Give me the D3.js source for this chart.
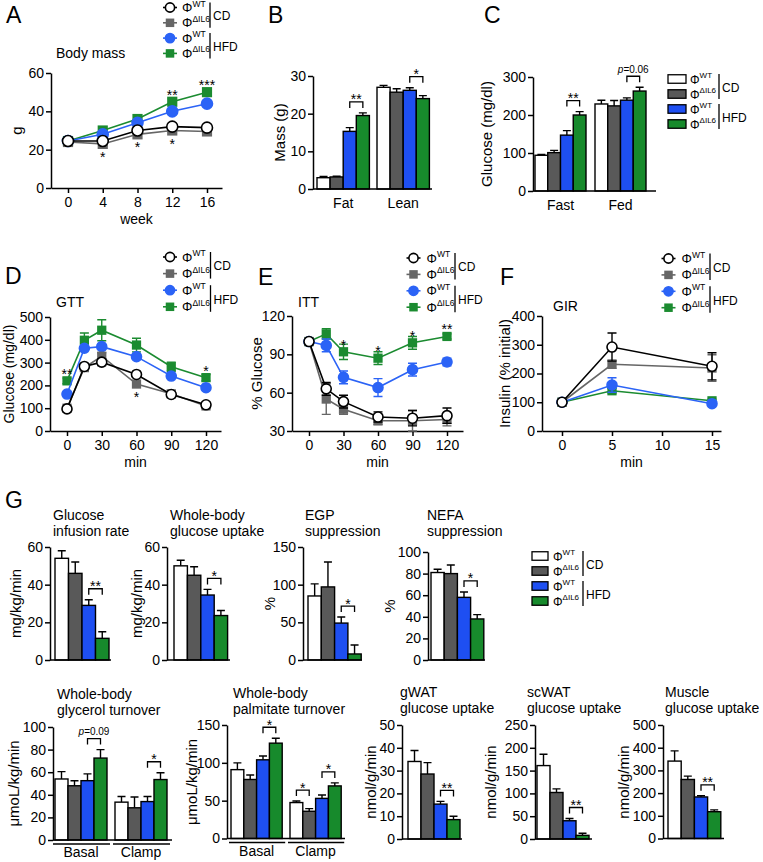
<!DOCTYPE html>
<html><head><meta charset="utf-8">
<script src="https://cdn.jsdelivr.net/npm/d3@7"></script>
<style>
body{margin:0;background:#fff;}
svg text{font-family:"Liberation Sans",Arial,Helvetica,sans-serif;}
</style></head><body>
<svg id="fig" width="763" height="862"></svg>
<script>
// ================= DATA =================
const groupSup = ["WT","ΔIL6","WT","ΔIL6"];
const dietGroups = ["CD","HFD"];

// A: body mass (rows: ΦWT CD, ΦΔIL6 CD, ΦWT HFD, ΦΔIL6 HFD)
const weeks = [0,4,8,12,16];
const weekTicks = [0,4,8,12,16];
const massTicks = [0,20,40,60];
const bodyMass = [[24.5,24.5,30,32,31.5],[24,23,28,30,29.5],[24.5,28,34,40,44],[24.5,30,36,45,50]];
const bodyMassErr = [[1,1,1,1,1],[1,1,1,1,1],[1,1,1,1,1.5],[1,1,1,1.5,1.5]];
const bodyMassStars = [{x:4,t:"*",pos:"below"},{x:8,t:"*",pos:"below"},{x:12,t:"*",pos:"below"},{x:12,t:"**",pos:"above"},{x:16,t:"***",pos:"above"}];

// B: body composition
const compCats = ["Fat","Lean"];
const compTicks = [0,10,20,30];
const compMass = [[3,3.2,15.3,19.5],[27,25.7,26.2,24]];
const compErr = [[0.3,0.2,1,0.7],[0.5,0.9,0.7,0.8]];
const compSig = [["Fat",2,3,"**"],["Lean",2,3,"*"]];

// C: glucose
const glucCats = ["Fast","Fed"];
const glucTicks = [0,100,200,300];
const glucVals = [[94,101,147,200],[229,224,239,263]];
const glucErr = [[2,6,12,9],[10,14,6,10]];
const glucSig = [["Fast",2,3,"**"],["Fed",2,3,"p=0.06"]];

// D: GTT
const gttTime = [0,15,30,60,90,120];
const minTicks = [0,30,60,90,120];
const gttTicks = [0,100,200,300,400,500];
const gtt = [[97,283,302,248,160,115],[100,278,328,206,163,110],[162,363,370,326,241,190],[220,398,442,377,282,234]];
const gttErr = [[8,12,15,12,8,10],[6,12,15,10,8,8],[8,10,10,12,10,8],[12,32,46,30,20,14]];
const gttStars = [{x:0,t:"**",pos:"above"},{x:60,t:"*",pos:"below"},{x:120,t:"*",pos:"above"}];

// E: ITT
const ittTime = [0,15,30,60,90,120];
const ittTicks = [30,60,90,120];
const itt = [[100,63,53,41,40,42],[100,55,47,38,38,39],[100,97,72,64,78,84],[100,106,92,87,99,104]];
const ittErr = [[0,5,5,4,6,6],[0,12,4,3,8,5],[0,5,5,7,5,3],[0,4,6,5,5,2]];
const ittStars = [{x:30,t:"*",pos:"above"},{x:60,t:"*",pos:"above"},{x:90,t:"*",pos:"above"},{x:120,t:"**",pos:"above"}];

// F: insulin during GIR
const girTime = [0,5,15];
const girTicks = [0,5,10,15];
const insTicks = [0,100,200,300,400];
const insulin = [[100,292,225],[100,232,219],[100,160,95],[100,140,105]];
const insulinErr = [[0,49,47],[0,14,46],[0,25,5],[0,8,6]];

// G row 1
const girRate = [54,46,29,11.5];      const girRateErr = [4,6,3,3.5];
const wbUptake = [50,45,34.5,23.6];   const wbUptakeErr = [3,4.5,3,2.7];
const egpSupp = [85,97,49,8];         const egpSuppErr = [16,33,8,12];
const nefaSupp = [81,80,58,38];       const nefaSuppErr = [3,8,5,4];
const ticks60 = [0,20,40,60];
const ticks150 = [0,50,100,150];
const ticks100 = [0,20,40,60,80,100];

// G row 2
const phaseCats = ["Basal","Clamp"];
const glycerol = [[54,48,52.5,72.5],[33.5,28.5,34,53.5]];
const glycerolErr = [[6.5,4.5,6,7.5],[5,9.5,4.5,6]];
const palmitate = [[91,78,104,126],[47.5,36,53,69.5]];
const palmitateErr = [[9,6,5,6.5],[2,3.5,4.5,4]];
const gwat = [34,28.5,15.3,8.5];      const gwatErr = [4.8,5,1.2,1.5];
const scwat = [161,102,40,8];         const scwatErr = [25,8,5,4.5];
const muscle = [341,260,183,118];     const muscleErr = [45,15,5,8];
const ticks50 = [0,10,20,30,40,50];
const ticks250 = [0,50,100,150,200,250];
const ticks500 = [0,100,200,300,400,500];

// ================= STYLE =================
const FONT = '"Liberation Sans", Arial, Helvetica, sans-serif';
const lineCol = ["#000000","#666666","#2b63f6","#1b8b30"];
const barFill = ["#ffffff","#595959","#1e4ff2","#178a2c"];
const svg = d3.select("#fig");
svg.append("rect").attr("width",763).attr("height",862).attr("fill","#fff");

function txt(x,y,s,o={}){
  const t = svg.append("text").attr("x",x).attr("y",y).text(s)
    .attr("font-size",o.size||14).attr("fill","#000");
  if(o.anchor) t.attr("text-anchor",o.anchor);
  if(o.italic) t.attr("font-style","italic");
  return t;
}
function ylabel(x,yc,s,size=15){
  svg.append("text").attr("transform",`translate(${x},${yc}) rotate(-90)`)
    .attr("text-anchor","middle").attr("font-size",size).attr("fill","#000").text(s);
}
function styleAxis(g,fs=14){
  g.attr("font-family",FONT);
  g.selectAll("path,line").attr("stroke","#000").attr("stroke-width",1.5);
  g.selectAll("text").attr("font-size",fs).attr("fill","#000");
}
function leftAxis(y,ticks,x,fs=14){
  const g = svg.append("g").attr("transform",`translate(${x},0)`)
    .call(d3.axisLeft(y).tickValues(ticks).tickSize(5).tickSizeOuter(0).tickPadding(2));
  styleAxis(g,fs);
}
function marker(s,cx,cy,r=5){
  if(s===0||s===2){
    svg.append("circle").attr("cx",cx).attr("cy",cy).attr("r",r)
      .attr("fill",s===0?"#fff":lineCol[2]).attr("stroke",s===0?"#000":lineCol[2]).attr("stroke-width",1.6);
  } else {
    const a = r*1.85;
    svg.append("rect").attr("x",cx-a/2).attr("y",cy-a/2).attr("width",a).attr("height",a).attr("fill",lineCol[s]);
  }
}
function phiText(x,y,sup,fs,ss){
  const t = svg.append("text").attr("x",x).attr("y",y).attr("font-size",fs).attr("fill","#000");
  t.append("tspan").text("Φ");
  t.append("tspan").attr("dy",-fs*0.42).attr("font-size",ss).text(sup);
}
function lineLegend(x,y0,dy,tx,bx){
  for(let i=0;i<4;i++){
    const yy=y0+i*dy;
    svg.append("line").attr("x1",x).attr("x2",x+14).attr("y1",yy).attr("y2",yy).attr("stroke",lineCol[i]).attr("stroke-width",1.6);
    marker(i,x+7,yy,4.6);
    phiText(tx,yy+4.5,groupSup[i],13,8.5);
  }
  for(let g=0;g<2;g++){
    const r0=y0+2*g*dy, r1=r0+dy;
    svg.append("line").attr("x1",bx).attr("x2",bx).attr("y1",r0-5).attr("y2",r1+5).attr("stroke","#000").attr("stroke-width",1.3);
    txt(bx+3,(r0+r1)/2+5,dietGroups[g],{size:12});
  }
}
function barLegend(x,y0,dy,w,h,tx,bx){
  for(let i=0;i<4;i++){
    const yy=y0+i*dy;
    svg.append("rect").attr("x",x).attr("y",yy-h/2).attr("width",w).attr("height",h)
      .attr("fill",barFill[i]).attr("stroke","#000").attr("stroke-width",1.3);
    phiText(tx,yy+4.5,groupSup[i],12,8);
  }
  for(let g=0;g<2;g++){
    const r0=y0+2*g*dy, r1=r0+dy;
    svg.append("line").attr("x1",bx).attr("x2",bx).attr("y1",r0-5).attr("y2",r1+5).attr("stroke","#000").attr("stroke-width",1.3);
    txt(bx+3,(r0+r1)/2+5,dietGroups[g],{size:12});
  }
}

function linePanel(o){
  const n=o.xs.length;
  const x=d3.scaleLinear().domain([o.xs[0],o.xs[n-1]]).range(o.xPx);
  const y=d3.scaleLinear().domain(o.yDom).range(o.yPx);
  const xa=d3.scaleLinear().domain([x.invert(o.axisX),x.invert(o.axisEnd)]).range([o.axisX,o.axisEnd]);
  const gx=svg.append("g").attr("transform",`translate(0,${o.yPx[0]})`)
    .call(d3.axisBottom(xa).tickValues(o.xTicks).tickSize(5).tickSizeOuter(0).tickPadding(4));
  styleAxis(gx);
  leftAxis(y,o.yTicks,o.axisX);
  const line=d3.line().x((d,i)=>x(o.xs[i])).y(d=>y(d));
  [3,2,1,0].forEach(s=>{
    const col=lineCol[s];
    o.series[s].forEach((v,i)=>{
      const e=o.errs[s][i]; if(!e) return;
      const cx=x(o.xs[i]);
      svg.append("path").attr("d",`M${cx},${y(v-e)}V${y(v+e)}M${cx-4.5},${y(v+e)}h9M${cx-4.5},${y(v-e)}h9`)
        .attr("stroke",col).attr("stroke-width",1.4).attr("fill","none");
    });
    svg.append("path").attr("d",line(o.series[s])).attr("fill","none").attr("stroke",col).attr("stroke-width",1.6);
    o.series[s].forEach((v,i)=>marker(s,x(o.xs[i]),y(v),o.r||5));
  });
  (o.stars||[]).forEach(a=>{
    const i=o.xs.indexOf(a.x);
    const vals=o.series.map(s=>s[i]);
    const yy=a.pos==="above"?y(d3.max(vals))-2:y(d3.min(vals))+18;
    txt(x(a.x),yy,a.t,{anchor:"middle",size:14});
  });
  return {x:xa,y};
}

function barPanel(o){
  const n=o.cats.length, gw=4*o.bw;
  const x0=d3.scaleBand().domain(o.cats).range([o.start,o.start+(n-1)*o.step+gw])
    .paddingInner(n>1?(o.step-gw)/o.step:0).paddingOuter(0);
  const x1=d3.scaleBand().domain([0,1,2,3]).range([0,x0.bandwidth()]);
  const y=d3.scaleLinear().domain([0,o.yMax]).range(o.yPx);
  const cx=(c,s)=>x0(c)+x1(s)+x1.bandwidth()/2;
  o.cats.forEach((c,ci)=>{
    o.vals[ci].forEach((v,s)=>{
      const e=o.errs[ci][s], xc=cx(c,s);
      svg.append("path").attr("d",`M${xc},${y(v)}V${y(v+e)}M${xc-4},${y(v+e)}h8`)
        .attr("stroke","#000").attr("stroke-width",1.4).attr("fill","none");
      svg.append("rect").attr("x",x0(c)+x1(s)).attr("y",y(v)).attr("width",x1.bandwidth()).attr("height",y(0)-y(v))
        .attr("fill",barFill[s]).attr("stroke","#000").attr("stroke-width",1.4);
    });
  });
  leftAxis(y,o.ticks,o.axisX);
  svg.append("line").attr("x1",o.axisX).attr("x2",o.axisEnd).attr("y1",y(0)).attr("y2",y(0)).attr("stroke","#000").attr("stroke-width",1.5);
  if(o.catLabels){
    o.cats.forEach(c=>txt(x0(c)+gw/2,y(0)+19,c,{anchor:"middle",size:14}));
  }
  if(o.underline){
    o.cats.forEach(c=>{
      svg.append("line").attr("x1",x0(c)-2).attr("x2",x0(c)+gw+3).attr("y1",y(0)+4).attr("y2",y(0)+4).attr("stroke","#000").attr("stroke-width",1.3);
      txt(x0(c)+gw/2,y(0)+17,c,{anchor:"middle",size:14});
    });
  }
  (o.sig||[]).forEach(([c,a,b,t])=>{
    const ci=o.cats.indexOf(c);
    const top=y(Math.max(o.vals[ci][a]+o.errs[ci][a],o.vals[ci][b]+o.errs[ci][b]))-11;
    const xa=cx(c,a), xb=cx(c,b);
    svg.append("path").attr("d",`M${xa},${top+6}V${top}H${xb}V${top+6}`).attr("fill","none").attr("stroke","#000").attr("stroke-width",1.3);
    if(t.startsWith("p=")){
      const tt=svg.append("text").attr("x",(xa+xb)/2).attr("y",top-3.5).attr("text-anchor","middle").attr("font-size",10).attr("fill","#000");
      tt.append("tspan").attr("font-style","italic").text("p");
      tt.append("tspan").text(t.slice(1));
    } else {
      txt((xa+xb)/2,top+2.5,t,{anchor:"middle",size:14});
    }
  });
}

// ================= PANEL LETTERS =================
[["A",6,23],["B",268,23],["C",484,23],["D",5,284],["E",258,285],["F",500,285],["G",5,508]]
  .forEach(([l,x,y])=>txt(x,y,l,{size:23}));

// ================= A =================
lineLegend(163,7.5,15.3,182,210);
txt(56,58,"Body mass");
linePanel({xs:weeks,series:bodyMass,errs:bodyMassErr,stars:bodyMassStars,xTicks:weekTicks,yTicks:massTicks,
  yDom:[0,60],xPx:[68,207],yPx:[188,73],axisX:51,axisEnd:222,r:5.5});
ylabel(22,130.5,"g");
txt(136.5,224,"week",{anchor:"middle"});

// ================= B =================
barPanel({cats:compCats,vals:compMass,errs:compErr,sig:compSig,ticks:compTicks,yMax:30,yPx:[189,76],
  axisX:313,axisEnd:432,start:317,step:60,bw:13.1,catLabels:true});
ylabel(285,132.5,"Mass (g)");

// ================= C =================
barPanel({cats:glucCats,vals:glucVals,errs:glucErr,sig:glucSig,ticks:glucTicks,yMax:300,yPx:[191,77],
  axisX:533,axisEnd:656,start:535,step:60,bw:12.75,catLabels:true});
ylabel(492,134,"Glucose (mg/dl)");
barLegend(668,79,15,18,8.5,690,719);

// ================= D =================
lineLegend(163,257,16.6,182,210.5);
txt(56,307,"GTT");
linePanel({xs:gttTime,series:gtt,errs:gttErr,stars:gttStars,xTicks:minTicks,yTicks:gttTicks,
  yDom:[0,500],xPx:[67,206],yPx:[431,317],axisX:50,axisEnd:221});
ylabel(14,374,"Glucose (mg/dl)",14);
txt(135.5,467,"min",{anchor:"middle"});

// ================= E =================
lineLegend(406.5,258,16.4,426.5,455);
txt(298,307,"ITT");
linePanel({xs:ittTime,series:itt,errs:ittErr,stars:ittStars,xTicks:minTicks,yTicks:ittTicks,
  yDom:[30,120],xPx:[309,447],yPx:[431,316],axisX:292,axisEnd:463});
ylabel(262,373.5,"% Glucose");
txt(377.5,467,"min",{anchor:"middle"});

// ================= F =================
lineLegend(661.5,258.5,16.4,681.5,710);
txt(553,311,"GIR");
linePanel({xs:girTime,series:insulin,errs:insulinErr,xTicks:girTicks,yTicks:insTicks,
  yDom:[0,400],xPx:[562,712],yPx:[431,316],axisX:542,axisEnd:721});
ylabel(510,373.5,"Insulin (% initial)");
txt(631.5,467,"min",{anchor:"middle"});

// ================= G row 1 =================
function title2(x,y1,l1,l2){txt(x,y1,l1);txt(x,y1+16,l2);}
title2(53,520,"Glucose","infusion rate");
barPanel({cats:["GIR"],vals:[girRate],errs:[girRateErr],sig:[["GIR",2,3,"**"]],ticks:ticks60,yMax:60,yPx:[660,547],
  axisX:50,axisEnd:111,start:55,step:60,bw:13.5});
ylabel(21,603.5,"mg/kg/min");

title2(170,520,"Whole-body","glucose uptake");
barPanel({cats:["WB"],vals:[wbUptake],errs:[wbUptakeErr],sig:[["WB",2,3,"*"]],ticks:ticks60,yMax:60,yPx:[660,547],
  axisX:167,axisEnd:230,start:174,step:60,bw:13.4});
ylabel(142,603.5,"mg/kg/min");

title2(305,520,"EGP","suppression");
barPanel({cats:["EGP"],vals:[egpSupp],errs:[egpSuppErr],sig:[["EGP",2,3,"*"]],ticks:ticks150,yMax:150,yPx:[660,547],
  axisX:303,axisEnd:362,start:308,step:60,bw:13.3});
ylabel(275,603.5,"%");

title2(427,520,"NEFA","suppression");
barPanel({cats:["NEFA"],vals:[nefaSupp],errs:[nefaSuppErr],sig:[["NEFA",2,3,"*"]],ticks:ticks100,yMax:100,yPx:[660,552],
  axisX:428,axisEnd:485,start:431,step:60,bw:13.2});
ylabel(395,606,"%");

barLegend(532,556,15,16,8.5,553,583);

// ================= G row 2 =================
title2(57,699,"Whole-body","glycerol turnover");
barPanel({cats:phaseCats,vals:glycerol,errs:glycerolErr,sig:[["Basal",2,3,"p=0.09"],["Clamp",2,3,"*"]],ticks:ticks100,yMax:100,yPx:[840,727],
  axisX:53,axisEnd:172,start:55,step:60,bw:13,underline:true});
ylabel(19,783.5,"μmoL/kg/min");

title2(233,698,"Whole-body","palmitate turnover");
barPanel({cats:phaseCats,vals:palmitate,errs:palmitateErr,sig:[["Basal",2,3,"*"],["Clamp",0,1,"*"],["Clamp",2,3,"*"]],ticks:ticks150,yMax:150,yPx:[838.5,725],
  axisX:227,axisEnd:345,start:231,step:59,bw:12.8,underline:true});
ylabel(197,782,"μmoL/kg/min");

title2(400,697,"gWAT","glucose uptake");
barPanel({cats:["gWAT"],vals:[gwat],errs:[gwatErr],sig:[["gWAT",2,3,"**"]],ticks:ticks50,yMax:50,yPx:[839,725],
  axisX:402,axisEnd:462,start:408,step:60,bw:13});
ylabel(376,782,"nmol/g/min");

title2(527,697,"scWAT","glucose uptake");
barPanel({cats:["scWAT"],vals:[scwat],errs:[scwatErr],sig:[["scWAT",2,3,"**"]],ticks:ticks250,yMax:250,yPx:[839,725],
  axisX:535,axisEnd:592,start:537,step:60,bw:13});
ylabel(496,782,"nmol/g/min");

title2(665,697,"Muscle","glucose uptake");
barPanel({cats:["Muscle"],vals:[muscle],errs:[muscleErr],sig:[["Muscle",2,3,"**"]],ticks:ticks500,yMax:500,yPx:[838.5,725],
  axisX:663,axisEnd:724,start:668,step:60,bw:13.2});
ylabel(629,782,"nmol/g/min");
</script>
</body></html>
